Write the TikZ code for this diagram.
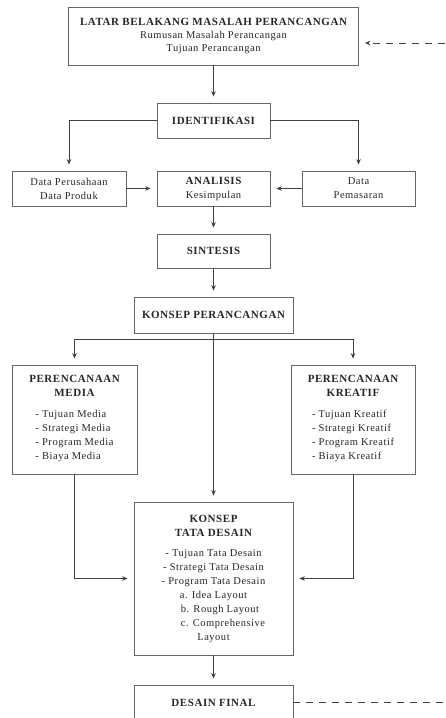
\documentclass[tikz,border=0pt]{standalone}
\usepackage{fontspec}
\setmainfont{Liberation Serif}[LetterSpace=5]
\usepackage{tikz}
\usetikzlibrary{arrows.meta}
\definecolor{linegray}{HTML}{404040}
\definecolor{boxgray}{HTML}{666666}
\definecolor{txtgray}{HTML}{262626}
\newcommand{\ttl}[1]{{\fontsize{11}{14}\selectfont\bfseries #1}}

\begin{document}
\begin{tikzpicture}[x=1pt,y=-1pt]
\tikzstyle{box}=[draw=boxgray,line width=0.8pt,inner sep=0pt,align=center,text=txtgray,font=\fontsize{10.5}{14}\selectfont]
\tikzstyle{arr}=[draw=linegray,line width=0.8pt,-{Stealth[length=5.5pt,width=4.5pt]},shorten >=6pt]
\tikzstyle{dashline}=[draw=linegray,line width=0.8pt,dash pattern=on 7pt off 6pt]
\useasboundingbox (0,0) rectangle (445,718);
\clip (0,0) rectangle (445,718);
\node[box,minimum width=290pt,minimum height=58pt,font=\fontsize{10.5}{13}\selectfont] (latar) at (213.5,36) {\ttl{LATAR BELAKANG MASALAH PERANCANGAN}\\Rumusan Masalah Perancangan\\Tujuan Perancangan};
\node[box,minimum width=113pt,minimum height=35pt] (ident) at (213.5,120.5) {\ttl{IDENTIFIKASI}};
\node[box,minimum width=114pt,minimum height=35pt] (dataper) at (69,188.5) {Data Perusahaan\\Data Produk};
\node[box,minimum width=113pt,minimum height=35pt] (analisis) at (213.5,188.5) {\ttl{ANALISIS}\\Kesimpulan};
\node[box,minimum width=113pt,minimum height=35pt] (datapem) at (358.5,188.5) {Data\\Pemasaran};
\node[box,minimum width=113pt,minimum height=34pt] (sintesis) at (213.5,251) {\ttl{SINTESIS}};
\node[box,minimum width=159pt,minimum height=36pt] (konsep) at (213.5,315) {\ttl{KONSEP PERANCANGAN}};
\node[box,minimum width=125pt,minimum height=109pt] (media) at (74.5,419.5) {\ttl{PERENCANAAN}\\\ttl{MEDIA}\\[7pt]\begin{tabular}[t]{@{}l@{}}- Tujuan Media\\- Strategi Media\\- Program Media\\- Biaya Media\end{tabular}};
\node[box,minimum width=124pt,minimum height=109pt] (kreatif) at (353,419.5) {\ttl{PERENCANAAN}\\\ttl{KREATIF}\\[7pt]\begin{tabular}[t]{@{}l@{}}- Tujuan Kreatif\\- Strategi Kreatif\\- Program Kreatif\\- Biaya Kreatif\end{tabular}};
\node[box,minimum width=159pt,minimum height=153pt] (tata) at (213.5,578.5) {\ttl{KONSEP}\\\ttl{TATA DESAIN}\\[6pt]- Tujuan Tata Desain\\- Strategi Tata Desain\\- Program Tata Desain\\a. Idea Layout\\\hspace*{13pt}b. Rough Layout\\\hspace*{19pt}c. Comprehensive\\Layout};
\node[box,minimum width=159pt,minimum height=35pt] (final) at (213.5,702.5) {\ttl{DESAIN FINAL}};
\coordinate (fork) at (213.5,339);
\coordinate (backin) at (445,43);
\coordinate (backout) at (445,702.5);
\draw[arr] (latar) -- (ident);
\draw[arr] (ident.west) -| (dataper.north);
\draw[arr] (ident.east) -| (datapem.north);
\draw[arr] (dataper) -- (analisis);
\draw[arr] (datapem) -- (analisis);
\draw[arr] (analisis) -- (sintesis);
\draw[arr] (sintesis) -- (konsep);
\draw[arr] (konsep) -- (tata);
\draw[arr] (fork) -| (media);
\draw[arr] (fork) -| (kreatif);
\draw[arr] (media) |- (tata);
\draw[arr] (kreatif) |- (tata);
\draw[arr] (tata) -- (final);
\draw[dashline] (final) -- (backout);
\draw[dashline,arr] (backin) -- (backin -| latar.east);
\end{tikzpicture}
\end{document}
